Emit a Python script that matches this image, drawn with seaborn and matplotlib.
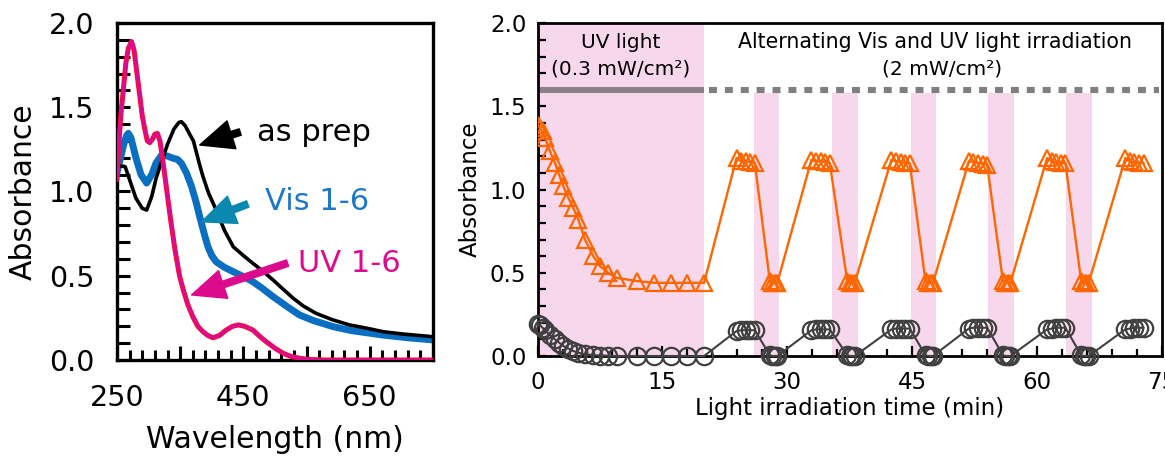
import matplotlib
matplotlib.use("Agg")
import matplotlib.pyplot as plt
import seaborn as sns
import pandas as pd

# ---------------- data: left panel (spectra) ----------------
wl_asprep = [250, 255, 260, 263, 270, 280, 290, 297, 305, 312, 320, 330, 340, 348, 352, 358, 365, 371,
             380, 386, 395, 407, 420, 434, 450, 465, 480, 497, 513, 529, 545, 565, 590, 618, 650, 671, 700, 750]
abs_asprep = [1.14, 1.15, 1.15, 1.147, 1.07, 0.96, 0.90, 0.89, 0.97, 1.08, 1.17, 1.28, 1.37, 1.41, 1.414, 1.39,
              1.34, 1.30, 1.17, 1.09, 0.99, 0.89, 0.77, 0.672, 0.62, 0.574, 0.53, 0.475, 0.42, 0.366, 0.32,
              0.277, 0.24, 0.208, 0.185, 0.168, 0.155, 0.138]

wl_vis = [250, 255, 260, 265, 268, 272, 280, 288, 297, 305, 312, 321, 330, 339, 346, 352, 360, 368, 375, 381,
          388, 394, 400, 407, 420, 434, 450, 465, 480, 497, 520, 539, 560, 592, 620, 671, 710, 750]
abs_vis = [1.11, 1.19, 1.27, 1.33, 1.345, 1.32, 1.20, 1.10, 1.05, 1.10, 1.17, 1.217, 1.21, 1.197, 1.19, 1.167,
           1.11, 1.03, 0.94, 0.85, 0.75, 0.672, 0.62, 0.583, 0.55, 0.524, 0.495, 0.465, 0.425, 0.376, 0.315,
           0.267, 0.235, 0.198, 0.175, 0.148, 0.132, 0.119]

wl_uv = [250, 253, 256, 260, 264, 268, 273, 277, 281, 286, 290, 294, 298, 302, 306, 310, 314, 318, 322, 328,
         335, 342, 349, 355, 362, 370, 378, 386, 394, 402, 412, 423, 433, 442, 452, 465, 476, 486, 500, 513,
         526, 539, 555, 580, 650, 750]
abs_uv = [1.07, 1.28, 1.45, 1.60, 1.76, 1.85, 1.89, 1.84, 1.72, 1.57, 1.45, 1.37, 1.30, 1.29, 1.31, 1.34, 1.345,
          1.30, 1.20, 1.03, 0.83, 0.65, 0.50, 0.415, 0.33, 0.257, 0.20, 0.168, 0.145, 0.132, 0.145, 0.178, 0.20,
          0.208, 0.20, 0.178, 0.14, 0.109, 0.07, 0.04, 0.02, 0.01, 0.003, 0.0, 0.0, 0.0]

left_xticks = [250, 350, 450, 550, 650, 750]
left_xticklabels = ["250", "", "450", "", "650", ""]
left_yticks = [0.0, 0.5, 1.0, 1.5, 2.0]

# ---------------- data: right panel (switching) ----------------
time_min = [0, 0.3, 0.6, 0.9, 1.5, 2.1, 2.6, 3.1, 3.7, 4.3, 4.9, 5.7, 6.7, 7.5, 8.5, 9.5, 12, 14, 16, 18, 20,
            23.9, 24.45, 25.0, 25.55, 26.1, 27.9, 28.2, 28.5, 28.8,
            32.9, 33.45, 34.0, 34.55, 35.1, 37.2, 37.5, 37.8, 38.1,
            42.5, 43.05, 43.6, 44.15, 44.7, 46.6, 46.9, 47.2, 47.5,
            51.8, 52.35, 52.9, 53.45, 54.0, 55.9, 56.2, 56.5, 56.8,
            61.2, 61.75, 62.3, 62.85, 63.4, 65.3, 65.6, 65.9, 66.2,
            70.6, 71.15, 71.7, 72.25, 72.8]
abs_triangle = [1.39, 1.37, 1.35, 1.31, 1.23, 1.16, 1.09, 1.02, 0.95, 0.89, 0.82, 0.70, 0.60, 0.54, 0.50, 0.47,
                0.45, 0.44, 0.44, 0.44, 0.44,
                1.19, 1.17, 1.17, 1.165, 1.16, 0.45, 0.44, 0.44, 0.44,
                1.18, 1.17, 1.17, 1.165, 1.16, 0.45, 0.44, 0.44, 0.44,
                1.18, 1.17, 1.165, 1.16, 1.16, 0.45, 0.44, 0.44, 0.44,
                1.17, 1.165, 1.16, 1.155, 1.15, 0.45, 0.44, 0.44, 0.44,
                1.19, 1.17, 1.165, 1.16, 1.16, 0.45, 0.44, 0.44, 0.44,
                1.19, 1.17, 1.165, 1.16, 1.16]
abs_circle = [0.195, 0.185, 0.17, 0.155, 0.125, 0.10, 0.08, 0.06, 0.045, 0.03, 0.02, 0.01, 0.005, 0.003, 0.002,
              0.0, 0.0, 0.0, 0.0, 0.0, 0.0,
              0.15, 0.155, 0.155, 0.155, 0.155, 0.005, 0.0, 0.0, 0.0,
              0.155, 0.16, 0.16, 0.16, 0.16, 0.005, 0.0, 0.0, 0.0,
              0.16, 0.165, 0.165, 0.165, 0.165, 0.005, 0.0, 0.0, 0.0,
              0.165, 0.17, 0.17, 0.17, 0.17, 0.005, 0.0, 0.0, 0.0,
              0.16, 0.165, 0.17, 0.17, 0.17, 0.005, 0.0, 0.0, 0.0,
              0.16, 0.165, 0.17, 0.17, 0.17]

uv_span_start = [26.0, 35.4, 44.8, 54.1, 63.5]
uv_span_end = [29.0, 38.5, 47.8, 57.2, 66.6]
right_xticks = [0, 15, 30, 45, 60, 75]
right_yticks = [0.0, 0.5, 1.0, 1.5, 2.0]

# ---------------- style ----------------
sns.set_style("ticks")
plt.rcParams["font.family"] = ["DejaVu Sans"]
plt.rcParams["text.color"] = "black"
plt.rcParams["axes.labelcolor"] = "black"
plt.rcParams["xtick.color"] = "black"
plt.rcParams["ytick.color"] = "black"
plt.rcParams["axes.edgecolor"] = "black"

fig = plt.figure(figsize=(11.65, 4.58), dpi=100)
axL = fig.add_axes([0.1004, 0.214, 0.2712, 0.7358])
axR = fig.add_axes([0.4614, 0.2227, 0.536, 0.7264])

# ---------------- left panel ----------------
df_a = pd.DataFrame({"wl": wl_asprep, "A": abs_asprep})
df_v = pd.DataFrame({"wl": wl_vis, "A": abs_vis})
df_u = pd.DataFrame({"wl": wl_uv, "A": abs_uv})
sns.lineplot(data=df_a, x="wl", y="A", ax=axL, color="black", lw=2.6, estimator=None, sort=False, zorder=3)
sns.lineplot(data=df_v, x="wl", y="A", ax=axL, color="#0A6FC2", lw=5.0, estimator=None, sort=False, zorder=2)
sns.lineplot(data=df_u, x="wl", y="A", ax=axL, color="#FF1010", lw=3.6, estimator=None, sort=False, zorder=4)
sns.lineplot(data=df_u, x="wl", y="A", ax=axL, color="#DC0A8C", lw=2.6, estimator=None, sort=False, zorder=5)

axL.set_xlim(250, 750)
axL.set_ylim(0, 2.0)
axL.set_xticks(left_xticks)
axL.set_xticklabels(left_xticklabels)
axL.set_xticks(range(250, 751, 20), minor=True)
axL.set_yticks(left_yticks)
axL.set_yticklabels([f"{v:.1f}" for v in left_yticks])
axL.set_yticks([i / 10 for i in range(0, 21)], minor=True)
axL.tick_params(axis="both", which="both", direction="in", width=2.2, color="black")
axL.tick_params(axis="y", which="both", length=9, labelsize=20.5, pad=16)
axL.tick_params(axis="x", which="major", length=10, labelsize=20.5, pad=17)
axL.tick_params(axis="x", which="minor", length=7)
for s in axL.spines.values():
    s.set_linewidth(2.4)
    s.set_color("black")
axL.set_xlabel("Wavelength (nm)", fontsize=21.5, labelpad=10)
axL.set_ylabel("Absorbance", fontsize=21.5, labelpad=8)

arrow_kw = dict(shrinkA=0, shrinkB=0, mutation_scale=20)
astyle = "simple,head_length=1.2,head_width=1.05,tail_width=0.24"
axL.annotate("", xy=(381, 1.276), xytext=(445, 1.353),
             arrowprops=dict(arrowstyle=astyle, color="black", **arrow_kw))
axL.annotate("", xy=(384, 0.82), xytext=(457, 0.926),
             arrowprops=dict(arrowstyle=astyle, color="#0A88B0", **arrow_kw))
axL.annotate("", xy=(368, 0.386), xytext=(520, 0.575),
             arrowprops=dict(arrowstyle=astyle, color="#DC0A8C", **arrow_kw))
axL.text(471, 1.35, "as prep", fontsize=22, color="black", va="center", ha="left")
axL.text(484, 0.94, "Vis 1-6", fontsize=22, color="#1F77C8", va="center", ha="left")
axL.text(536, 0.575, "UV 1-6", fontsize=22, color="#DC0A8C", va="center", ha="left")

# ---------------- right panel ----------------
pink = "#F7D7EC"
axR.axvspan(0, 20, ymin=0, ymax=1, color=pink, lw=0, zorder=0)
for s0, s1 in zip(uv_span_start, uv_span_end):
    axR.axvspan(s0, s1, ymin=0, ymax=1.58 / 2.0, color=pink, lw=0, zorder=0)
axR.plot([0, 20], [1.6, 1.6], color="#8C808B", lw=4.4, solid_capstyle="butt", zorder=1)
axR.plot([20.6, 74.6], [1.6, 1.6], color="#7F7F7F", lw=4.4, linestyle=(0, (1.3, 1.3)),
         dash_capstyle="butt", zorder=1)

df_r = pd.DataFrame({"t": time_min, "tri": abs_triangle, "cir": abs_circle})
sns.lineplot(data=df_r, x="t", y="tri", ax=axR, color="#FF6600", lw=1.7, estimator=None, sort=False,
             marker="^", markersize=12, markerfacecolor="none", markeredgecolor="#FF6600",
             markeredgewidth=1.6, zorder=3)
sns.lineplot(data=df_r, x="t", y="cir", ax=axR, color="#404040", lw=1.5, estimator=None, sort=False,
             marker="o", markersize=12.5, markerfacecolor="none", markeredgecolor="#404040",
             markeredgewidth=1.6, zorder=3, clip_on=False)

axR.set_xlim(0, 75)
axR.set_ylim(0, 2.0)
axR.set_xticks(right_xticks)
axR.set_xticklabels([str(v) for v in right_xticks])
axR.set_xticks(range(0, 76, 3), minor=True)
axR.set_yticks(right_yticks)
axR.set_yticklabels([f"{v:.1f}" for v in right_yticks])
axR.set_yticks([i / 10 for i in range(0, 21)], minor=True)
axR.tick_params(axis="both", which="both", direction="in", width=1.6, color="black")
axR.tick_params(axis="y", which="both", length=6, labelsize=16.5, pad=8)
axR.tick_params(axis="x", which="major", length=7, labelsize=16.5, pad=11)
axR.tick_params(axis="x", which="minor", length=5)
for s in axR.spines.values():
    s.set_linewidth(2.0)
    s.set_color("black")
axR.set_xlabel("Light irradiation time (min)", fontsize=16.5, labelpad=2)
axR.set_ylabel("Absorbance", fontsize=16.5, labelpad=6)

axR.text(10, 1.885, "UV light", fontsize=14.5, ha="center", va="center")
axR.text(10, 1.725, "(0.3 mW/cm²)", fontsize=14.5, ha="center", va="center")
axR.text(47.7, 1.885, "Alternating Vis and UV light irradiation", fontsize=14.8, ha="center", va="center")
axR.text(48.6, 1.725, "(2 mW/cm²)", fontsize=14.5, ha="center", va="center")

fig.savefig("out.png", dpi=100)
